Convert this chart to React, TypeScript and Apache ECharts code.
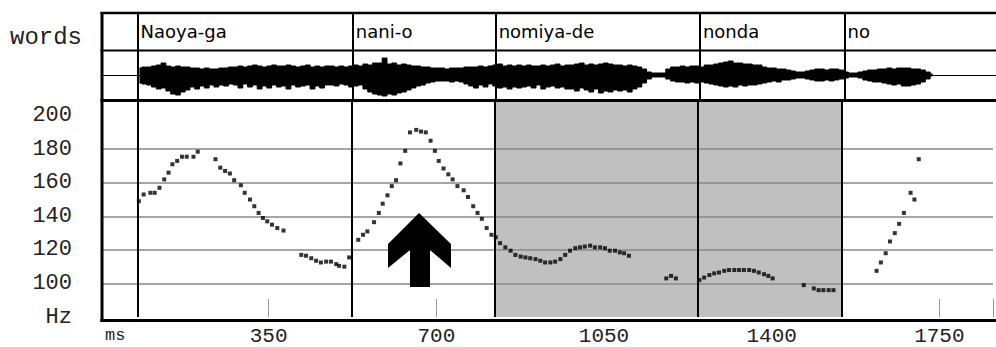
import React, { useEffect, useRef } from 'react';
import * as echarts from 'echarts';

// ---- data ----
const words = ['Naoya-ga', 'nani-o', 'nomiya-de', 'nonda', 'no'];
const wordStarts = [76, 524, 821, 1246, 1547];
const focusRange = [821, 1547];
const yTickLabels = [100, 120, 140, 160, 180, 200];
const hzGridLines = [100, 120, 140, 160, 180];
const xTickLabels = [350, 700, 1050, 1400, 1750];

const pitchMs = [
  79, 89, 103, 112, 122, 132, 141, 149, 159, 169, 179, 193, 202, 239, 249, 259, 269, 278, 292, 300, 311, 320, 329, 338, 347, 357, 368, 381,
  418, 428, 439, 449, 459, 470, 480, 491, 497, 508, 518,
  537, 547, 556, 570, 580, 588, 598, 607, 616, 625, 635, 645, 658, 668, 678, 688, 697, 705, 715, 725, 734, 744, 757, 766, 777, 786, 795, 805, 815,
  824, 833, 844, 855, 865, 876, 886, 896, 907, 917, 927, 938, 948, 959, 969, 979, 990, 1000, 1010, 1021, 1031, 1042, 1052, 1062, 1073, 1083, 1092, 1102,
  1180, 1190, 1200,
  1249, 1259, 1270, 1280, 1290, 1301, 1311, 1322, 1332, 1342, 1353, 1363, 1373, 1384, 1393, 1402,
  1467, 1488, 1498, 1508, 1519, 1529,
  1619, 1628, 1638, 1647, 1657, 1666, 1676, 1690, 1698, 1707,
];
const pitchHz = [
  149, 153, 154, 154, 157, 162, 166, 171, 173, 175.5, 175.5, 175.5, 178.5, 174, 169, 167, 165.5, 161.5, 158.5, 154, 150, 146, 142, 139, 137, 135, 133, 131.5,
  117, 116.5, 115, 113.5, 112.5, 113, 113, 111.5, 110.5, 110, 115.5,
  126, 129, 131, 136.5, 142, 147.5, 152.5, 158, 161.5, 171.5, 179, 190, 191.5, 190.5, 190, 185, 179, 173, 168.5, 165, 162, 158, 155.5, 151.5, 146, 142, 138.5, 133, 129,
  127.5, 124, 121.5, 119.5, 117, 116, 115.5, 115, 114.5, 113.5, 112.5, 112.5, 113, 114.5, 117, 119.5, 121, 121.5, 122, 122.5, 121.5, 121.5, 121, 119.5, 119.5, 118.5, 118, 116.5,
  103, 104.5, 103,
  102, 103.5, 105, 106, 106.5, 107.5, 108, 108, 108, 108, 108, 107.5, 106.5, 105.5, 104.5, 103,
  99, 97, 96, 96, 96, 96,
  107.5, 112.5, 118, 125, 130, 135.5, 142, 154, 150, 174,
];

// waveform envelope (amplitude, sampled every 10 ms from 80 ms)
const waveStartMs = 80;
const waveStepMs = 10;
const waveTop = [
  7, 8, 8, 9, 10, 12, 9, 8, 9, 8,
  8, 7, 7, 6, 7, 6, 6, 7, 7, 8,
  8, 9, 8, 9, 10, 9, 8, 9, 10, 9,
  9, 10, 9, 8, 9, 10, 8, 9, 8, 9,
  9, 8, 9, 8, 9, 10, 9, 11, 10, 12,
  12, 17, 11, 12, 10, 11, 10, 9, 9, 8,
  8, 7, 7, 7, 6, 7, 7, 7, 8, 8,
  8, 9, 8, 9, 10, 11, 9, 10, 9, 10,
  9, 10, 9, 9, 10, 9, 10, 11, 9, 10,
  10, 11, 12, 10, 11, 10, 11, 12, 11, 10,
  10, 9, 10, 9, 8, 6, 3, 2, 2, 2,
  6, 8, 8, 9, 8, 9, 9, 8, 10, 10,
  11, 12, 13, 14, 12, 12, 11, 11, 10, 10,
  8, 7, 7, 6, 6, 5, 4, 3, 3, 4,
  5, 6, 6, 5, 6, 6, 5, 3, 2, 2,
  3, 4, 5, 5, 6, 6, 7, 6, 7, 7,
  7, 6, 6, 5, 3, 1,
];
const waveBottom = [
  -8, -9, -10, -12, -14, -13, -16, -19, -20, -17,
  -15, -12, -14, -11, -13, -10, -12, -10, -11, -9,
  -10, -13, -9, -12, -10, -14, -11, -13, -10, -12,
  -11, -14, -10, -12, -11, -10, -14, -11, -13, -10,
  -10, -11, -9, -10, -12, -11, -10, -14, -17, -19,
  -20, -21, -19, -20, -18, -17, -15, -13, -11, -10,
  -8, -7, -6, -6, -6, -7, -6, -7, -9, -11,
  -13, -10, -12, -9, -11, -13, -12, -14, -12, -13,
  -12, -11, -13, -10, -14, -12, -11, -13, -12, -14,
  -14, -16, -13, -15, -17, -14, -18, -16, -17, -15,
  -16, -15, -17, -14, -12, -8, -4, -2, -2, -2,
  -4, -6, -7, -7, -8, -7, -8, -7, -8, -9,
  -10, -11, -12, -11, -12, -10, -11, -10, -10, -9,
  -8, -7, -6, -7, -5, -5, -4, -3, -3, -4,
  -5, -6, -6, -5, -6, -5, -4, -3, -2, -2,
  -3, -5, -6, -7, -7, -8, -9, -10, -9, -11,
  -11, -10, -9, -7, -4, -1,
];

const X_MAX = 1862;
const MONO = '"Liberation Mono", "Courier New", monospace';

export default function App() {
  const ref = useRef<HTMLDivElement>(null);
  useEffect(() => {
    const chart = echarts.init(ref.current!, null, { renderer: 'svg' });
    const boundaryLines = {
      silent: true,
      symbol: ['none', 'none'],
      label: { show: false },
      lineStyle: { color: '#000', width: 2, type: 'solid' },
      data: wordStarts.map((s) => ({ xAxis: s })),
    };
    const xBase = (i: number) => ({
      type: 'value', gridIndex: i, min: 0, max: X_MAX, interval: 350, show: false,
    });
    const toWave = (arr: number[]) => arr.map((v, i) => [waveStartMs + i * waveStepMs, v]);

    const option: any = {
      animation: false,
      backgroundColor: '#fff',
      grid: [
        { left: 101, right: -2, top: 13, height: 37 },
        { left: 101, right: -2, top: 51, height: 48 },
        { left: 101, right: -2, top: 101, height: 220 },
      ],
      xAxis: [
        xBase(0),
        xBase(1),
        {
          ...xBase(2),
          show: true,
          position: 'bottom',
          axisLine: { show: false },
          axisTick: { show: true, inside: true, length: 18, lineStyle: { color: '#999', width: 1 } },
          axisLabel: {
            margin: 9, fontFamily: MONO, fontSize: 21, color: '#222',
            formatter: (v: number) => (xTickLabels.includes(v) ? String(v) : ''),
          },
          splitLine: { show: false },
        },
      ],
      yAxis: [
        { type: 'value', gridIndex: 0, min: 0, max: 1, show: false },
        { type: 'value', gridIndex: 1, min: -24, max: 24, show: false },
        {
          type: 'value', gridIndex: 2, min: 80, max: 208.7, interval: 20,
          axisLine: { show: false }, axisTick: { show: false }, splitLine: { show: false },
          axisLabel: {
            margin: 29, fontFamily: MONO, fontSize: 22, color: '#222',
            formatter: (v: number) => (v === 80 ? 'Hz' : yTickLabels.includes(v) ? String(v) : ''),
          },
        },
      ],
      series: [
        {
          type: 'custom',
          xAxisIndex: 0, yAxisIndex: 0,
          data: wordStarts.map((s) => [s, 0.5]),
          renderItem: (params: any, api: any) => {
            const p = api.coord([api.value(0), api.value(1)]);
            return {
              type: 'text',
              x: p[0] + 3,
              y: p[1],
              style: {
                text: words[params.dataIndex],
                fill: '#000',
                font: '18px "DejaVu Sans"',
                align: 'left',
                verticalAlign: 'middle',
              },
            };
          },
          markLine: boundaryLines,
        },
        {
          type: 'line',
          xAxisIndex: 1, yAxisIndex: 1,
          data: toWave(waveTop),
          step: 'middle',
          showSymbol: false, symbol: 'none',
          lineStyle: { color: '#000', width: 1 },
          areaStyle: { color: '#000', opacity: 1 },
          markLine: boundaryLines,
        },
        {
          type: 'line',
          xAxisIndex: 1, yAxisIndex: 1,
          data: toWave(waveBottom),
          step: 'middle',
          showSymbol: false, symbol: 'none',
          lineStyle: { color: '#000', width: 1 },
          areaStyle: { color: '#000', opacity: 1 },
          markLine: {
            silent: true, symbol: ['none', 'none'], label: { show: false },
            lineStyle: { color: '#000', width: 1, type: 'solid' },
            data: [{ yAxis: 0 }],
          },
        },
        {
          type: 'line',
          xAxisIndex: 2, yAxisIndex: 2,
          data: [],
          markArea: {
            silent: true,
            itemStyle: { color: '#c0c0c0' },
            data: [[{ xAxis: focusRange[0] }, { xAxis: focusRange[1] }]],
          },
          markLine: {
            silent: true, symbol: ['none', 'none'], label: { show: false },
            lineStyle: { color: '#888', width: 1.5, type: 'solid' },
            data: hzGridLines.map((v) => ({ yAxis: v })),
          },
        },
        {
          type: 'line',
          xAxisIndex: 2, yAxisIndex: 2,
          data: [],
          markLine: boundaryLines,
        },
        {
          type: 'scatter',
          xAxisIndex: 2, yAxisIndex: 2,
          z: 10,
          symbol: 'rect',
          symbolSize: 4,
          itemStyle: { color: '#000' },
          data: pitchMs.map((t, i) => [t, pitchHz[i]]),
        },
      ],
      graphic: [
        { type: 'line', z: 100, shape: { x1: 100.5, y1: 13, x2: 998, y2: 13 }, style: { stroke: '#000', lineWidth: 2.5 } },
        { type: 'line', z: 100, shape: { x1: 100.5, y1: 50.5, x2: 998, y2: 50.5 }, style: { stroke: '#000', lineWidth: 2 } },
        { type: 'line', z: 100, shape: { x1: 100.5, y1: 100.5, x2: 998, y2: 100.5 }, style: { stroke: '#000', lineWidth: 3 } },
        { type: 'line', z: 100, shape: { x1: 100.5, y1: 320.5, x2: 998, y2: 320.5 }, style: { stroke: '#000', lineWidth: 3 } },
        { type: 'line', z: 100, shape: { x1: 102, y1: 12, x2: 102, y2: 322 }, style: { stroke: '#000', lineWidth: 3 } },
        {
          type: 'polygon', z: 50,
          shape: { points: [[419, 213], [451, 244], [451, 268], [430, 250], [430, 287], [410, 287], [410, 250], [388, 268], [388, 244]] },
          style: { fill: '#000' },
        },
        { type: 'text', z: 100, x: 82, y: 37, style: { text: 'words', font: `24px ${MONO}`, fill: '#222', align: 'right', verticalAlign: 'middle' } },
        { type: 'text', z: 100, x: 105, y: 327, style: { text: 'ms', font: `17px ${MONO}`, fill: '#222', align: 'left', verticalAlign: 'top' } },
      ],
    };
    chart.setOption(option);
    return () => chart.dispose();
  }, []);
  return (
    <div
      ref={ref}
      style={{ position: 'fixed', left: 0, top: 0, width: 996, height: 347, background: '#fff' }}
    />
  );
}
